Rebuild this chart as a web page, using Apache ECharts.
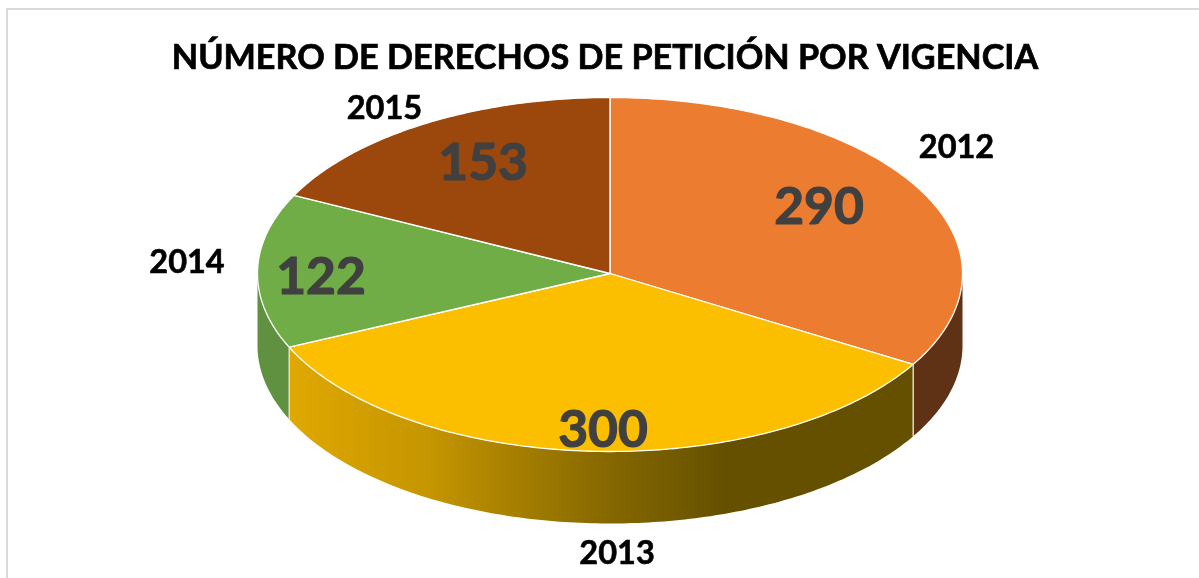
<!DOCTYPE html>
<html><head><meta charset="utf-8">
<style>html,body{margin:0;padding:0;background:#fff}#c{width:1199px;height:578px}</style>
<script src="https://cdn.jsdelivr.net/npm/echarts@6/dist/echarts.min.js"></script>
</head><body><div id="c"></div>
<script>
const titleText = 'NÚMERO DE DERECHOS DE PETICIÓN POR VIGENCIA';
const years = ['2012', '2013', '2014', '2015'];
const counts = [290, 300, 122, 153];
const topColors = ['#EC7C30', '#FBBF00', '#70AD47', '#9C470C'];
const wallColors = ['#5F3215', null, '#5F9140', '#7a380b'];

const CX = 610, CY = 273.5, RX = 352.5, RY_BACK = 176, RY_FRONT = 178, DEPTH = 72;
const total = counts.reduce((a, b) => a + b, 0);
const startOf = i => counts.slice(0, i).reduce((a, b) => a + b, 0) / total * 2 * Math.PI;
const pt = (t, dy) => {
  const c = Math.cos(t);
  return [CX + RX * Math.sin(t), CY - (c > 0 ? RY_BACK : RY_FRONT) * c + (dy || 0)];
};
function arc(a, b, dy) {
  const n = Math.max(2, Math.ceil((b - a) / 0.015));
  const out = [];
  for (let k = 0; k <= n; k++) out.push(pt(a + (b - a) * k / n, dy));
  return out;
}
const wallFill = {
  type: 'linear', x: 0, y: 0, x2: 1, y2: 0,
  colorStops: [
    { offset: 0, color: '#E0A800' },
    { offset: 0.22, color: '#C69600' },
    { offset: 0.51, color: '#866800' },
    { offset: 0.7, color: '#655000' },
    { offset: 1, color: '#655000' }
  ]
};
function renderItem(params, api) {
  const i = params.dataIndex;
  const a = startOf(i), b = a + api.value(0) / total * 2 * Math.PI;
  const children = [];
  const wa = Math.max(a, Math.PI / 2), wb = Math.min(b, 1.5 * Math.PI);
  if (wb > wa) {
    const fill = wallColors[i] || wallFill;
    children.push({
      type: 'polygon',
      shape: { points: arc(wa, wb, 0).concat(arc(wa, wb, DEPTH).reverse()) },
      style: { fill: fill, stroke: null }
    });
    [wa, wb].forEach(t => {
      if (t === Math.PI / 2 || t === 1.5 * Math.PI) return;
      children.push({
        type: 'line',
        shape: { x1: pt(t)[0], y1: pt(t)[1], x2: pt(t, DEPTH)[0], y2: pt(t, DEPTH)[1] },
        style: { stroke: '#E8E4D8', lineWidth: 1.2 }
      });
    });
  }
  children.push({
    type: 'polygon',
    shape: { points: [[CX, CY]].concat(arc(a, b, 0)) },
    style: { fill: topColors[i], stroke: '#FFFFFF', lineWidth: 1.3, lineJoin: 'round' }
  });
  return { type: 'group', children: children };
}
const valueLabelPos = [[0.593, -0.375], [-0.02, 0.89], [-0.82, 0.02], [-0.36, -0.625]];
const nameLabelPos = [[0.983, -0.715], [0.02, 1.59], [-1.2, -0.06], [-0.64, -0.935]];
function labels(list, fmt, size, color, stroke) {
  return list.map((p, i) => ({
    type: 'text',
    x: CX + p[0] * RX, y: CY + p[1] * RY_BACK,
    style: { text: String(fmt[i]), fontFamily: 'Lato', fontWeight: 'bold', fontSize: size,
      fill: color, stroke: color, lineWidth: stroke, textAlign: 'center', textVerticalAlign: 'middle' },
    z: 100
  }));
}
const chart = echarts.init(document.getElementById('c'), null, { renderer: 'canvas' });
chart.setOption({
  animation: false,
  backgroundColor: '#fff',
  title: { text: titleText, left: 600, top: 36, textAlign: 'center',
    textStyle: { fontFamily: 'Lato', fontWeight: 'bold', fontSize: 34.2, color: '#000',
      textBorderColor: '#000', textBorderWidth: 0.7 } },
  graphic: [
    { type: 'polyline', shape: { points: [[7, 578], [7, 9], [1199, 9]] },
      style: { stroke: '#D9D9D9', lineWidth: 2, fill: null }, z: 0 }
  ].concat(labels(valueLabelPos, counts, 51.5, '#404040', 1.2), labels(nameLabelPos, years, 32.5, '#000', 0.6)),
  series: [{
    type: 'custom',
    coordinateSystem: 'none',
    renderItem: renderItem,
    data: counts.map(v => [v]),
    silent: true
  }]
});
</script></body></html>
